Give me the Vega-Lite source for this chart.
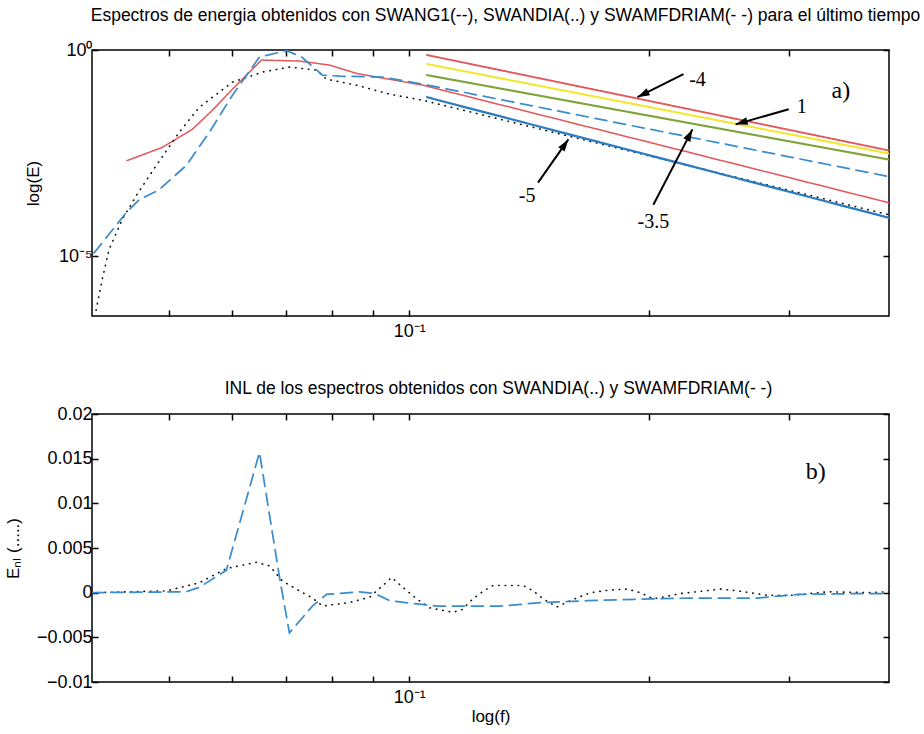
{
  "$schema": "https://vega.github.io/schema/vega-lite/v6.json",
  "background": "white",
  "padding": {"left": 3, "top": 5, "right": 2, "bottom": 2},
  "spacing": 37,
  "config": {
    "font": "Liberation Sans",
    "view": {"stroke": "black", "strokeWidth": 1.5},
    "axis": {"domain": false, "grid": false, "tickColor": "black", "tickWidth": 1.5, "tickSize": -6, "labelColor": "black", "labelFont": "Liberation Sans", "labelFontSize": 18, "titleFont": "Liberation Sans", "titleFontSize": 17, "titleFontWeight": "normal", "titleColor": "black"},
    "title": {"font": "Liberation Sans", "fontSize": 17.5, "fontWeight": "normal", "color": "black"}
  },
  "datasets": {
    "spectra": [
      {"series": "SWAN_G1", "f": 0.04426, "E": 0.00207},
      {"series": "SWAN_G1", "f": 0.04899, "E": 0.00431},
      {"series": "SWAN_G1", "f": 0.05343, "E": 0.01183},
      {"series": "SWAN_G1", "f": 0.05663, "E": 0.0344},
      {"series": "SWAN_G1", "f": 0.06002, "E": 0.1119},
      {"series": "SWAN_G1", "f": 0.06527, "E": 0.57},
      {"series": "SWAN_G1", "f": 0.07283, "E": 0.539},
      {"series": "SWAN_G1", "f": 0.07945, "E": 0.431},
      {"series": "SWAN_G1", "f": 0.0859, "E": 0.27},
      {"series": "SWAN_G1", "f": 0.104, "E": 0.14},
      {"series": "SWAN_G1", "f": 0.4, "E": 0.000196},
      {"series": "SWAN_DIA", "f": 0.04047, "E": 4.82e-7},
      {"series": "SWAN_DIA", "f": 0.04118, "E": 2.6e-6},
      {"series": "SWAN_DIA", "f": 0.042, "E": 1.4e-5},
      {"series": "SWAN_DIA", "f": 0.04363, "E": 7.55e-5},
      {"series": "SWAN_DIA", "f": 0.04545, "E": 0.000291},
      {"series": "SWAN_DIA", "f": 0.04815, "E": 0.00157},
      {"series": "SWAN_DIA", "f": 0.05145, "E": 0.01},
      {"series": "SWAN_DIA", "f": 0.05453, "E": 0.0407},
      {"series": "SWAN_DIA", "f": 0.06002, "E": 0.166},
      {"series": "SWAN_DIA", "f": 0.06546, "E": 0.291},
      {"series": "SWAN_DIA", "f": 0.07075, "E": 0.385},
      {"series": "SWAN_DIA", "f": 0.0765, "E": 0.325},
      {"series": "SWAN_DIA", "f": 0.07876, "E": 0.196},
      {"series": "SWAN_DIA", "f": 0.0859, "E": 0.14},
      {"series": "SWAN_DIA", "f": 0.09457, "E": 0.0845},
      {"series": "SWAN_DIA", "f": 0.104, "E": 0.0603},
      {"series": "SWAN_DIA", "f": 0.4, "E": 0.0001},
      {"series": "SWAM_FDRIAM", "f": 0.04023, "E": 1.18e-5},
      {"series": "SWAM_FDRIAM", "f": 0.04414, "E": 0.000112},
      {"series": "SWAM_FDRIAM", "f": 0.04584, "E": 0.000232},
      {"series": "SWAM_FDRIAM", "f": 0.04857, "E": 0.000407},
      {"series": "SWAM_FDRIAM", "f": 0.05251, "E": 0.00157},
      {"series": "SWAM_FDRIAM", "f": 0.05613, "E": 0.01},
      {"series": "SWAM_FDRIAM", "f": 0.06002, "E": 0.0799},
      {"series": "SWAM_FDRIAM", "f": 0.0649, "E": 0.675},
      {"series": "SWAM_FDRIAM", "f": 0.07016, "E": 0.97},
      {"series": "SWAM_FDRIAM", "f": 0.07329, "E": 0.675},
      {"series": "SWAM_FDRIAM", "f": 0.07787, "E": 0.2455},
      {"series": "SWAM_FDRIAM", "f": 0.0818, "E": 0.232},
      {"series": "SWAM_FDRIAM", "f": 0.09265, "E": 0.22},
      {"series": "SWAM_FDRIAM", "f": 0.104, "E": 0.148},
      {"series": "SWAM_FDRIAM", "f": 0.4, "E": 0.000845},
      {"series": "pendiente -4", "f": 0.1053, "E": 0.755},
      {"series": "pendiente -4", "f": 0.4, "E": 0.00364},
      {"series": "pendiente 1", "f": 0.1053, "E": 0.456},
      {"series": "pendiente 1", "f": 0.4, "E": 0.00307},
      {"series": "pendiente -3.5", "f": 0.1053, "E": 0.2455},
      {"series": "pendiente -3.5", "f": 0.4, "E": 0.00219},
      {"series": "pendiente -5", "f": 0.1053, "E": 0.0714},
      {"series": "pendiente -5", "f": 0.4, "E": 8.45e-5}
    ],
    "arrows": [
      {"label": "-4", "f": 0.2209, "E": 0.26, "f2": 0.1934, "E2": 0.0714},
      {"label": "1", "f": 0.2994, "E": 0.0364, "f2": 0.2568, "E2": 0.01567},
      {"label": "-3.5", "f": 0.2025, "E": 0.000175, "f2": 0.2267, "E2": 0.01183},
      {"label": "-5", "f": 0.1451, "E": 0.000603, "f2": 0.1584, "E2": 0.00675}
    ],
    "labels": [
      {"label": "-4", "f": 0.23, "E": 0.1854},
      {"label": "1", "f": 0.3109, "E": 0.0407},
      {"label": "-3.5", "f": 0.2025, "E": 6.75e-5},
      {"label": "-5", "f": 0.1406, "E": 0.00029}
    ],
    "panelA": [{"label": "a)", "f": 0.3481, "E": 0.1}],
    "panelB": [{"label": "b)", "f": 0.3238, "v": 0.01355}],
    "inl": [
      {"series": "SWAN_DIA", "f": 0.04, "v": 0},
      {"series": "SWAN_DIA", "f": 0.04957, "v": 0.0002},
      {"series": "SWAN_DIA", "f": 0.05453, "v": 0.0011},
      {"series": "SWAN_DIA", "f": 0.05897, "v": 0.0027},
      {"series": "SWAN_DIA", "f": 0.06433, "v": 0.0034},
      {"series": "SWAN_DIA", "f": 0.06679, "v": 0.003},
      {"series": "SWAN_DIA", "f": 0.06935, "v": 0.0013},
      {"series": "SWAN_DIA", "f": 0.07283, "v": 0.0002},
      {"series": "SWAN_DIA", "f": 0.07562, "v": -0.0006},
      {"series": "SWAN_DIA", "f": 0.07787, "v": -0.0015},
      {"series": "SWAN_DIA", "f": 0.0842, "v": -0.0011},
      {"series": "SWAN_DIA", "f": 0.08922, "v": -0.0005},
      {"series": "SWAN_DIA", "f": 0.09509, "v": 0.0017},
      {"series": "SWAN_DIA", "f": 0.09819, "v": 0.0006},
      {"series": "SWAN_DIA", "f": 0.1022, "v": -0.0007},
      {"series": "SWAN_DIA", "f": 0.1062, "v": -0.0017},
      {"series": "SWAN_DIA", "f": 0.1135, "v": -0.0022},
      {"series": "SWAN_DIA", "f": 0.1165, "v": -0.0019},
      {"series": "SWAN_DIA", "f": 0.1202, "v": -0.0007},
      {"series": "SWAN_DIA", "f": 0.1245, "v": 0.0003},
      {"series": "SWAN_DIA", "f": 0.1274, "v": 0.0008},
      {"series": "SWAN_DIA", "f": 0.139, "v": 0.0008},
      {"series": "SWAN_DIA", "f": 0.1431, "v": 0.0002},
      {"series": "SWAN_DIA", "f": 0.1473, "v": -0.0007},
      {"series": "SWAN_DIA", "f": 0.1533, "v": -0.0016},
      {"series": "SWAN_DIA", "f": 0.1592, "v": -0.0009},
      {"series": "SWAN_DIA", "f": 0.1688, "v": 0},
      {"series": "SWAN_DIA", "f": 0.1788, "v": 0.0003},
      {"series": "SWAN_DIA", "f": 0.1878, "v": 0.0004},
      {"series": "SWAN_DIA", "f": 0.195, "v": 0},
      {"series": "SWAN_DIA", "f": 0.2025, "v": -0.0007},
      {"series": "SWAN_DIA", "f": 0.219, "v": -0.0001},
      {"series": "SWAN_DIA", "f": 0.246, "v": 0.0004},
      {"series": "SWAN_DIA", "f": 0.2584, "v": 0.0002},
      {"series": "SWAN_DIA", "f": 0.2818, "v": -0.0003},
      {"series": "SWAN_DIA", "f": 0.3012, "v": -0.0003},
      {"series": "SWAN_DIA", "f": 0.3353, "v": 0.0001},
      {"series": "SWAN_DIA", "f": 0.3764, "v": 0},
      {"series": "SWAN_DIA", "f": 0.4, "v": 0.0001},
      {"series": "SWAM_FDRIAM", "f": 0.04, "v": 0},
      {"series": "SWAM_FDRIAM", "f": 0.0525, "v": 0.0001},
      {"series": "SWAM_FDRIAM", "f": 0.05453, "v": 0.0006},
      {"series": "SWAM_FDRIAM", "f": 0.05897, "v": 0.0025},
      {"series": "SWAM_FDRIAM", "f": 0.0649, "v": 0.0157},
      {"series": "SWAM_FDRIAM", "f": 0.06876, "v": 0.0017},
      {"series": "SWAM_FDRIAM", "f": 0.07075, "v": -0.0045},
      {"series": "SWAM_FDRIAM", "f": 0.07562, "v": -0.0015},
      {"series": "SWAM_FDRIAM", "f": 0.07876, "v": -0.0002},
      {"series": "SWAM_FDRIAM", "f": 0.0865, "v": 0.0001},
      {"series": "SWAM_FDRIAM", "f": 0.0905, "v": -0.0001},
      {"series": "SWAM_FDRIAM", "f": 0.09457, "v": -0.0009},
      {"series": "SWAM_FDRIAM", "f": 0.1011, "v": -0.0012},
      {"series": "SWAM_FDRIAM", "f": 0.1083, "v": -0.0015},
      {"series": "SWAM_FDRIAM", "f": 0.13, "v": -0.0015},
      {"series": "SWAM_FDRIAM", "f": 0.1473, "v": -0.0011},
      {"series": "SWAM_FDRIAM", "f": 0.1673, "v": -0.0009},
      {"series": "SWAM_FDRIAM", "f": 0.2007, "v": -0.0007},
      {"series": "SWAM_FDRIAM", "f": 0.2254, "v": -0.0006},
      {"series": "SWAM_FDRIAM", "f": 0.2738, "v": -0.0006},
      {"series": "SWAM_FDRIAM", "f": 0.3073, "v": -0.0002},
      {"series": "SWAM_FDRIAM", "f": 0.3689, "v": -0.0001},
      {"series": "SWAM_FDRIAM", "f": 0.4, "v": -0.0001}
    ]
  },
  "vconcat": [
    {
      "width": 797,
      "height": 266,
      "title": {"text": "Espectros de energia obtenidos con SWANG1(--), SWANDIA(..) y SWAMFDRIAM(- -) para el último tiempo", "offset": 17, "dx": 15},
      "resolve": {"axis": {"x": "independent", "y": "independent"}},
      "layer": [
        {
          "data": {"name": "spectra"},
          "mark": {"type": "line", "strokeCap": "round", "clip": true},
          "encoding": {
            "x": {"field": "f", "type": "quantitative", "scale": {"type": "log", "domain": [0.04, 0.4]},
                  "axis": {"orient": "bottom", "values": [0.05, 0.06, 0.07, 0.08, 0.09, 0.1, 0.2, 0.3], "labelExpr": "abs(datum.value - 0.1) < 1e-9 ? '10⁻¹' : ''", "title": null, "labelPadding": 12, "labelFlush": false, "labelOverlap": false}},
            "y": {"field": "E", "type": "quantitative", "scale": {"type": "log", "domain": [3.5e-7, 1]},
                  "axis": {"orient": "left", "values": [0.00001, 1], "labelExpr": "datum.value > 0.5 ? '10⁰' : '10⁻⁵'", "title": "log(E)", "titlePadding": -10, "minExtent": 60, "maxExtent": 60, "labelPadding": 6, "labelFlush": false}},
            "color": {"field": "series", "type": "nominal", "legend": null,
                      "scale": {"domain": ["SWAN_G1", "SWAN_DIA", "SWAM_FDRIAM", "pendiente -4", "pendiente 1", "pendiente -3.5", "pendiente -5"],
                                "range": ["#e3585b", "#111111", "#3a8ccc", "#e3585b", "#f2e62a", "#7fa23b", "#2b7cc2"]}},
            "strokeDash": {"field": "series", "type": "nominal", "legend": null,
                      "scale": {"domain": ["SWAN_G1", "SWAN_DIA", "SWAM_FDRIAM", "pendiente -4", "pendiente 1", "pendiente -3.5", "pendiente -5"],
                                "range": [[1, 0], [0.5, 6], [12, 7], [1, 0], [1, 0], [1, 0], [1, 0]]}},
            "strokeWidth": {"field": "series", "type": "nominal", "legend": null,
                      "scale": {"domain": ["SWAN_G1", "SWAN_DIA", "SWAM_FDRIAM", "pendiente -4", "pendiente 1", "pendiente -3.5", "pendiente -5"],
                                "range": [1.5, 2.2, 2, 1.5, 3.5, 1.5, 1.8]}}
          }
        },
        {
          "data": {"name": "spectra"},
          "mark": {"type": "point", "opacity": 0},
          "encoding": {
            "x": {"field": "f", "type": "quantitative", "scale": {"type": "log", "domain": [0.04, 0.4]},
                  "axis": {"orient": "top", "values": [0.05, 0.06, 0.07, 0.08, 0.09, 0.1, 0.2, 0.3], "labels": false, "title": null}},
            "y": {"field": "E", "type": "quantitative", "scale": {"type": "log", "domain": [3.5e-7, 1]},
                  "axis": {"orient": "right", "values": [0.00001, 1], "labels": false, "title": null}}
          }
        },
        {
          "data": {"name": "arrows"},
          "mark": {"type": "rule", "color": "black", "strokeWidth": 2},
          "encoding": {
            "x": {"field": "f", "type": "quantitative", "scale": {"type": "log", "domain": [0.04, 0.4]}, "axis": null},
            "y": {"field": "E", "type": "quantitative", "scale": {"type": "log", "domain": [3.5e-7, 1]}, "axis": null},
            "x2": {"field": "f2"},
            "y2": {"field": "E2"}
          }
        },
        {
          "data": {"name": "arrows"},
          "transform": [{"filter": "datum.label == '-4'"}],
          "mark": {"type": "point", "shape": "M0,0L0.45,1.4L-0.45,1.4Z", "filled": true, "color": "black", "opacity": 1, "size": 300, "angle": 243.4},
          "encoding": {
            "x": {"field": "f2", "type": "quantitative", "scale": {"type": "log", "domain": [0.04, 0.4]}, "axis": null},
            "y": {"field": "E2", "type": "quantitative", "scale": {"type": "log", "domain": [3.5e-7, 1]}, "axis": null}
          }
        },
        {
          "data": {"name": "arrows"},
          "transform": [{"filter": "datum.label == '1'"}],
          "mark": {"type": "point", "shape": "M0,0L0.45,1.4L-0.45,1.4Z", "filled": true, "color": "black", "opacity": 1, "size": 300, "angle": 254.2},
          "encoding": {
            "x": {"field": "f2", "type": "quantitative", "scale": {"type": "log", "domain": [0.04, 0.4]}, "axis": null},
            "y": {"field": "E2", "type": "quantitative", "scale": {"type": "log", "domain": [3.5e-7, 1]}, "axis": null}
          }
        },
        {
          "data": {"name": "arrows"},
          "transform": [{"filter": "datum.label == '-3.5'"}],
          "mark": {"type": "point", "shape": "M0,0L0.45,1.4L-0.45,1.4Z", "filled": true, "color": "black", "opacity": 1, "size": 300, "angle": 27.5},
          "encoding": {
            "x": {"field": "f2", "type": "quantitative", "scale": {"type": "log", "domain": [0.04, 0.4]}, "axis": null},
            "y": {"field": "E2", "type": "quantitative", "scale": {"type": "log", "domain": [3.5e-7, 1]}, "axis": null}
          }
        },
        {
          "data": {"name": "arrows"},
          "transform": [{"filter": "datum.label == '-5'"}],
          "mark": {"type": "point", "shape": "M0,0L0.45,1.4L-0.45,1.4Z", "filled": true, "color": "black", "opacity": 1, "size": 300, "angle": 34.9},
          "encoding": {
            "x": {"field": "f2", "type": "quantitative", "scale": {"type": "log", "domain": [0.04, 0.4]}, "axis": null},
            "y": {"field": "E2", "type": "quantitative", "scale": {"type": "log", "domain": [3.5e-7, 1]}, "axis": null}
          }
        },
        {
          "data": {"name": "labels"},
          "mark": {"type": "text", "font": "Liberation Serif", "fontSize": 20, "color": "black", "align": "center", "baseline": "middle"},
          "encoding": {
            "x": {"field": "f", "type": "quantitative", "scale": {"type": "log", "domain": [0.04, 0.4]}, "axis": null},
            "y": {"field": "E", "type": "quantitative", "scale": {"type": "log", "domain": [3.5e-7, 1]}, "axis": null},
            "text": {"field": "label"}
          }
        },
        {
          "data": {"name": "panelA"},
          "mark": {"type": "text", "font": "Liberation Serif", "fontSize": 24, "color": "black", "align": "center", "baseline": "middle"},
          "encoding": {
            "x": {"field": "f", "type": "quantitative", "scale": {"type": "log", "domain": [0.04, 0.4]}, "axis": null},
            "y": {"field": "E", "type": "quantitative", "scale": {"type": "log", "domain": [3.5e-7, 1]}, "axis": null},
            "text": {"field": "label"}
          }
        }
      ]
    },
    {
      "width": 797,
      "height": 268,
      "title": {"text": "INL de los espectros obtenidos con SWANDIA(..) y SWAMFDRIAM(- -)", "offset": 8, "dx": 8},
      "resolve": {"axis": {"x": "independent", "y": "independent"}},
      "layer": [
        {
          "data": {"name": "inl"},
          "mark": {"type": "line", "strokeCap": "round", "clip": true},
          "encoding": {
            "x": {"field": "f", "type": "quantitative", "scale": {"type": "log", "domain": [0.04, 0.4]},
                  "axis": {"orient": "bottom", "values": [0.05, 0.06, 0.07, 0.08, 0.09, 0.1, 0.2, 0.3], "labelExpr": "abs(datum.value - 0.1) < 1e-9 ? '10⁻¹' : ''", "title": "log(f)", "titlePadding": 2, "labelPadding": 12, "labelFlush": false, "labelOverlap": false}},
            "y": {"field": "v", "type": "quantitative", "scale": {"domain": [-0.01, 0.02], "nice": false, "zero": false},
                  "axis": {"orient": "left", "values": [-0.01, -0.005, 0, 0.005, 0.01, 0.015, 0.02], "format": ".3~f", "title": "Eₙₗ (.....)", "titlePadding": 10, "minExtent": 60, "maxExtent": 60, "labelPadding": 6, "labelFlush": false}},
            "color": {"field": "series", "type": "nominal", "legend": null,
                      "scale": {"domain": ["SWAN_DIA", "SWAM_FDRIAM"], "range": ["#111111", "#3a8ccc"]}},
            "strokeDash": {"field": "series", "type": "nominal", "legend": null,
                      "scale": {"domain": ["SWAN_DIA", "SWAM_FDRIAM"], "range": [[0.5, 6], [12, 7]]}},
            "strokeWidth": {"field": "series", "type": "nominal", "legend": null,
                      "scale": {"domain": ["SWAN_DIA", "SWAM_FDRIAM"], "range": [2.2, 2]}}
          }
        },
        {
          "data": {"name": "inl"},
          "mark": {"type": "point", "opacity": 0},
          "encoding": {
            "x": {"field": "f", "type": "quantitative", "scale": {"type": "log", "domain": [0.04, 0.4]},
                  "axis": {"orient": "top", "values": [0.05, 0.06, 0.07, 0.08, 0.09, 0.1, 0.2, 0.3], "labels": false, "title": null}},
            "y": {"field": "v", "type": "quantitative", "scale": {"domain": [-0.01, 0.02], "nice": false, "zero": false},
                  "axis": {"orient": "right", "values": [-0.01, -0.005, 0, 0.005, 0.01, 0.015, 0.02], "labels": false, "title": null}}
          }
        },
        {
          "data": {"name": "panelB"},
          "mark": {"type": "text", "font": "Liberation Serif", "fontSize": 24, "color": "black", "align": "center", "baseline": "middle"},
          "encoding": {
            "x": {"field": "f", "type": "quantitative", "scale": {"type": "log", "domain": [0.04, 0.4]}, "axis": null},
            "y": {"field": "v", "type": "quantitative", "scale": {"domain": [-0.01, 0.02], "nice": false, "zero": false}, "axis": null},
            "text": {"field": "label"}
          }
        }
      ]
    }
  ]
}
